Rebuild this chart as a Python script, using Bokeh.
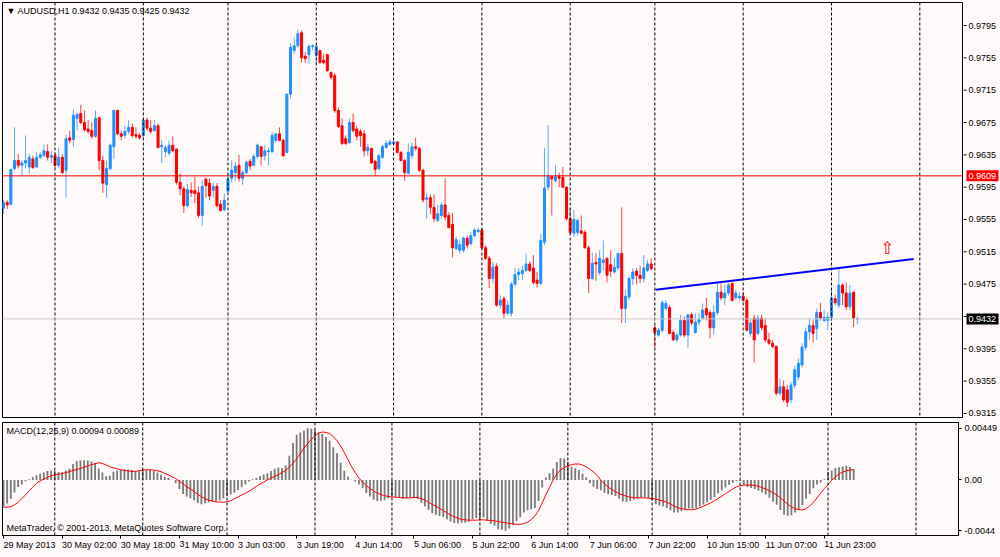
from bokeh.plotting import figure
from bokeh.models import ColumnDataSource, FixedTicker, Span, Label, Range1d, CustomJSTickFormatter
from bokeh.layouts import column, row
from bokeh.embed import file_html
from bokeh.resources import INLINE
from bokeh.core.properties import value

# ---------------- data ----------------
symbol_title = "\u25bc AUDUSD,H1  0.9432 0.9435 0.9425 0.9432"
macd_title = "MACD(12,26,9) 0.00094 0.00089"
copyright_text = "MetaTrader, \u00a9 2001-2013, MetaQuotes Software Corp."

time_label_bars = [0, 16, 32, 48, 64, 80, 96, 112, 128, 144, 160, 176, 192, 208, 224]
time_labels = ["29 May 2013", "30 May 02:00", "30 May 18:00", "31 May 10:00", "3 Jun 03:00",
               "3 Jun 19:00", "4 Jun 14:00", "5 Jun 06:00", "5 Jun 22:00", "6 Jun 14:00",
               "7 Jun 06:00", "7 Jun 22:00", "10 Jun 15:00", "11 Jun 07:00", "11 Jun 23:00"]
day_start_bars = [14, 38, 61, 85, 106, 130, 154, 177, 201, 225, 249]
price_ticks = [0.9795, 0.9755, 0.9715, 0.9675, 0.9635, 0.9595, 0.9555, 0.9515,
               0.9475, 0.9435, 0.9395, 0.9355, 0.9315]
macd_ticks = [0.00449, 0.0, -0.0044]
hline_price = 0.9609
bid_price = 0.9432
trend_x = [177.2, 247.3]
trend_y = [0.9468, 0.9506]
arrow_x = [240.2]
arrow_y = [0.9520]

# prices in pips (1/10000)
open_pips = [
 9569, 9576, 9574, 9618, 9628, 9622, 9625, 9620, 9630, 9620,
 9632, 9634, 9639, 9632, 9634, 9622, 9632, 9616, 9656, 9654,
 9680, 9686, 9675, 9667, 9665, 9658, 9681, 9628, 9598, 9618,
 9645, 9690, 9661, 9659, 9664, 9669, 9660, 9659, 9659, 9678,
 9668, 9665, 9671, 9645, 9639, 9637, 9647, 9642, 9601, 9593,
 9572, 9591, 9591, 9588, 9560, 9605, 9600, 9591, 9596, 9574,
 9567, 9590, 9606, 9613, 9622, 9606, 9613, 9627, 9622, 9633,
 9645, 9634, 9639, 9639, 9653, 9661, 9653, 9638, 9710, 9764,
 9770, 9786, 9757, 9759, 9769, 9758, 9764, 9752, 9759, 9737,
 9733, 9690, 9671, 9655, 9650, 9675, 9667, 9664, 9661, 9640,
 9643, 9627, 9618, 9632, 9644, 9648, 9649, 9651, 9638, 9628,
 9612, 9634, 9645, 9643, 9616, 9580, 9582, 9570, 9554, 9560,
 9573, 9560, 9549, 9519, 9517, 9517, 9532, 9525, 9535, 9540,
 9542, 9520, 9507, 9482, 9497, 9449, 9457, 9439, 9439, 9475,
 9487, 9488, 9492, 9500, 9495, 9480, 9476, 9527, 9595, 9608,
 9603, 9608, 9607, 9595, 9556, 9538, 9539, 9541, 9539, 9520,
 9482, 9502, 9489, 9502, 9507, 9499, 9490, 9495, 9513, 9445,
 9459, 9482, 9491, 9486, 9482, 9492, 9500, 9421, 9412, 9418,
 9445, 9446, 9415, 9406, 9412, 9430, 9412, 9437, 9415, 9428,
 9433, 9445, 9440, 9421, 9440, 9465, 9458, 9464, 9476, 9458,
 9458, 9460, 9455, 9414, 9433, 9414, 9433, 9424, 9406, 9402,
 9398, 9340, 9348, 9344, 9332, 9350, 9360, 9375, 9397, 9416,
 9424, 9420, 9440, 9430, 9430, 9434, 9457, 9449, 9474, 9464,
 9447, 9465, 9432]
high_pips = [
 9579, 9579, 9618, 9669, 9636, 9628, 9659, 9636, 9634, 9638,
 9638, 9648, 9648, 9640, 9638, 9644, 9636, 9660, 9665, 9691,
 9687, 9697, 9690, 9678, 9675, 9690, 9682, 9634, 9628, 9649,
 9691, 9691, 9665, 9671, 9678, 9674, 9669, 9662, 9681, 9681,
 9678, 9678, 9674, 9653, 9647, 9653, 9658, 9643, 9612, 9596,
 9599, 9601, 9608, 9596, 9603, 9607, 9606, 9601, 9600, 9579,
 9587, 9612, 9628, 9626, 9635, 9616, 9628, 9630, 9636, 9649,
 9645, 9647, 9644, 9663, 9661, 9669, 9655, 9711, 9773, 9780,
 9790, 9789, 9762, 9772, 9772, 9773, 9764, 9760, 9760, 9738,
 9736, 9694, 9680, 9659, 9680, 9686, 9671, 9667, 9666, 9649,
 9644, 9629, 9636, 9647, 9653, 9654, 9653, 9652, 9640, 9630,
 9649, 9650, 9656, 9645, 9618, 9588, 9586, 9586, 9573, 9576,
 9606, 9564, 9563, 9534, 9529, 9534, 9535, 9540, 9544, 9545,
 9544, 9523, 9510, 9502, 9501, 9461, 9460, 9455, 9478, 9495,
 9495, 9498, 9513, 9503, 9511, 9490, 9537, 9643, 9672, 9609,
 9622, 9613, 9620, 9596, 9569, 9567, 9556, 9560, 9542, 9523,
 9514, 9513, 9517, 9529, 9508, 9517, 9508, 9514, 9570, 9468,
 9486, 9495, 9495, 9498, 9511, 9505, 9507, 9424, 9421, 9455,
 9455, 9449, 9418, 9415, 9437, 9435, 9438, 9440, 9439, 9439,
 9451, 9458, 9443, 9449, 9476, 9476, 9474, 9477, 9477, 9468,
 9465, 9465, 9458, 9433, 9437, 9437, 9437, 9433, 9415, 9406,
 9399, 9358, 9356, 9350, 9354, 9374, 9383, 9402, 9421, 9433,
 9430, 9445, 9452, 9443, 9440, 9468, 9462, 9495, 9476, 9477,
 9474, 9466, 9435]
low_pips = [
 9562, 9568, 9572, 9616, 9618, 9609, 9618, 9612, 9618, 9619,
 9630, 9632, 9628, 9625, 9619, 9619, 9611, 9582, 9649, 9645,
 9665, 9673, 9664, 9661, 9655, 9656, 9616, 9588, 9582, 9616,
 9630, 9659, 9653, 9655, 9661, 9656, 9655, 9654, 9656, 9665,
 9661, 9664, 9643, 9625, 9632, 9634, 9638, 9598, 9585, 9563,
 9570, 9583, 9575, 9557, 9547, 9582, 9579, 9582, 9570, 9565,
 9565, 9588, 9601, 9603, 9602, 9598, 9611, 9616, 9621, 9630,
 9622, 9628, 9622, 9637, 9650, 9652, 9632, 9637, 9705, 9760,
 9768, 9749, 9749, 9748, 9764, 9748, 9748, 9747, 9738, 9728,
 9687, 9668, 9647, 9647, 9649, 9663, 9653, 9645, 9633, 9634,
 9624, 9609, 9616, 9630, 9643, 9646, 9647, 9637, 9627, 9603,
 9611, 9630, 9640, 9614, 9576, 9556, 9562, 9552, 9552, 9556,
 9554, 9544, 9508, 9517, 9513, 9514, 9519, 9523, 9533, 9538,
 9519, 9505, 9470, 9476, 9447, 9445, 9433, 9437, 9435, 9473,
 9480, 9480, 9490, 9490, 9475, 9471, 9474, 9523, 9591, 9560,
 9601, 9595, 9594, 9554, 9537, 9533, 9535, 9537, 9519, 9464,
 9480, 9479, 9486, 9492, 9477, 9484, 9488, 9492, 9427, 9427,
 9455, 9474, 9475, 9476, 9477, 9490, 9492, 9397, 9410, 9415,
 9443, 9413, 9405, 9403, 9410, 9409, 9396, 9424, 9414, 9424,
 9430, 9430, 9408, 9413, 9437, 9455, 9449, 9461, 9453, 9455,
 9455, 9453, 9416, 9410, 9378, 9412, 9418, 9403, 9400, 9396,
 9337, 9337, 9329, 9323, 9328, 9346, 9356, 9372, 9393, 9406,
 9403, 9406, 9430, 9428, 9418, 9430, 9449, 9445, 9449, 9443,
 9443, 9422, 9425]
close_pips = [
 9576, 9573, 9617, 9628, 9622, 9625, 9628, 9632, 9619, 9632,
 9635, 9640, 9632, 9634, 9622, 9632, 9613, 9655, 9653, 9684,
 9685, 9675, 9666, 9664, 9658, 9680, 9628, 9600, 9618, 9647,
 9690, 9661, 9658, 9664, 9669, 9659, 9658, 9656, 9678, 9668,
 9664, 9671, 9644, 9647, 9644, 9647, 9640, 9601, 9593, 9572,
 9592, 9588, 9587, 9560, 9596, 9597, 9584, 9596, 9572, 9566,
 9579, 9605, 9616, 9621, 9606, 9613, 9626, 9621, 9633, 9647,
 9633, 9640, 9640, 9659, 9661, 9653, 9634, 9710, 9768, 9770,
 9785, 9755, 9754, 9769, 9770, 9769, 9749, 9749, 9739, 9731,
 9690, 9670, 9649, 9649, 9675, 9665, 9658, 9659, 9640, 9644,
 9625, 9617, 9634, 9645, 9649, 9651, 9651, 9638, 9628, 9613,
 9638, 9645, 9643, 9616, 9579, 9582, 9570, 9556, 9562, 9573,
 9558, 9545, 9520, 9530, 9524, 9532, 9523, 9535, 9542, 9542,
 9520, 9507, 9482, 9496, 9449, 9455, 9439, 9449, 9475, 9487,
 9490, 9492, 9500, 9492, 9477, 9476, 9529, 9594, 9609, 9605,
 9608, 9606, 9595, 9556, 9539, 9555, 9554, 9538, 9520, 9482,
 9501, 9500, 9507, 9505, 9486, 9491, 9496, 9513, 9445, 9460,
 9482, 9490, 9486, 9482, 9495, 9500, 9494, 9415, 9418, 9452,
 9451, 9414, 9406, 9412, 9430, 9412, 9437, 9427, 9428, 9431,
 9443, 9437, 9421, 9440, 9465, 9458, 9464, 9474, 9455, 9464,
 9460, 9455, 9418, 9427, 9406, 9433, 9421, 9406, 9402, 9398,
 9340, 9348, 9332, 9329, 9350, 9369, 9377, 9397, 9416, 9424,
 9414, 9440, 9433, 9434, 9434, 9458, 9452, 9474, 9464, 9447,
 9464, 9433, 9432]

# MACD main (histogram) and signal, in units of 0.00001
macd_main = [
 -233, -205, -163, -108, -61, -39, -11, 6, 25, 42,
 55, 66, 78, 83, 80, 69, 69, 83, 97, 139,
 163, 169, 172, 169, 161, 147, 100, 66, 33, 36,
 72, 83, 91, 94, 91, 86, 75, 75, 89, 86,
 86, 78, 64, 47, 28, 17, 3, -28, -78, -122,
 -144, -158, -177, -199, -211, -202, -194, -186, -186, -177,
 -161, -141, -125, -111, -86, -64, -39, -14, 6, 17,
 33, 47, 58, 78, 97, 108, 102, 125, 211, 321,
 393, 413, 429, 449, 445, 432, 413, 399, 374, 341,
 285, 233, 150, 80, 30, 3, -14, -39, -69, -114,
 -144, -172, -183, -180, -175, -158, -144, -150, -155, -163,
 -161, -155, -152, -163, -197, -227, -260, -288, -302, -313,
 -321, -341, -360, -374, -377, -371, -371, -363, -341, -330,
 -330, -324, -357, -379, -396, -427, -432, -440, -421, -388,
 -357, -324, -283, -263, -255, -244, -183, -66, 22, 58,
 100, 155, 191, 186, 155, 114, 102, 86, 53, 22,
 -28, -58, -78, -89, -111, -122, -130, -139, -163, -186,
 -188, -183, -172, -163, -150, -150, -158, -177, -211, -222,
 -227, -244, -263, -283, -283, -271, -258, -247, -247, -241,
 -230, -213, -194, -172, -147, -116, -89, -66, -42, -25,
 -11, -6, -44, -61, -69, -78, -94, -108, -127, -155,
 -186, -216, -260, -302, -310, -307, -283, -260, -219, -163,
 -122, -72, -39, -22, 6, 72, 83, 105, 110, 118,
 125, 112, 94]
macd_signal = [
 -238, -235, -233, -216, -194, -161, -130, -94, -61, -30,
 -8, 8, 22, 36, 44, 50, 55, 64, 72, 83,
 91, 100, 111, 122, 133, 141, 150, 144, 130, 116,
 105, 97, 89, 83, 78, 75, 75, 80, 86, 89,
 89, 86, 80, 72, 58, 44, 28, 11, -11, -33,
 -58, -78, -100, -125, -144, -163, -175, -183, -191, -191,
 -194, -188, -180, -163, -147, -130, -116, -97, -78, -55,
 -36, -19, 0, 17, 30, 47, 64, 83, 111, 144,
 186, 230, 277, 316, 352, 385, 407, 416, 413, 402,
 377, 341, 296, 238, 177, 116, 64, 17, -19, -50,
 -72, -97, -114, -127, -136, -144, -147, -150, -152, -155,
 -155, -155, -152, -152, -161, -175, -194, -213, -227, -247,
 -266, -285, -305, -319, -332, -343, -346, -349, -349, -349,
 -346, -346, -349, -352, -355, -360, -366, -371, -377, -382,
 -385, -385, -379, -366, -343, -313, -266, -199, -130, -64,
 0, 53, 86, 108, 122, 133, 139, 139, 130, 114,
 94, 69, 39, -3, -33, -61, -83, -102, -119, -130,
 -141, -150, -152, -155, -155, -155, -158, -161, -166, -175,
 -183, -194, -208, -227, -241, -249, -255, -258, -258, -252,
 -241, -227, -213, -199, -180, -161, -141, -119, -100, -78,
 -61, -50, -44, -44, -44, -47, -55, -66, -78, -94,
 -111, -130, -155, -183, -211, -233, -249, -258, -260, -249,
 -227, -194, -155, -114, -75, -39, -3, 25, 53, 69,
 80, 86, 89]

# ---------------- build sources ----------------
n = len(close_pips)
bars = list(range(n))
o = [v / 10000 for v in open_pips]
h = [v / 10000 for v in high_pips]
l = [v / 10000 for v in low_pips]
c = [v / 10000 for v in close_pips]
UP = "#1E90FF"
DOWN = "#FF0000"
colors = [UP if cc >= oo else DOWN for oo, cc in zip(o, c)]
candles = ColumnDataSource(dict(
    x=bars, high=h, low=l,
    top=[max(a, b) for a, b in zip(o, c)],
    bottom=[min(a, b) for a, b in zip(o, c)],
    color=colors))
macd_src = ColumnDataSource(dict(
    x=bars,
    main=[v / 100000 for v in macd_main],
    signal=[v / 100000 for v in macd_signal]))

BG = "#FFFAFA"
FONT = "Liberation Sans"
FS = "9px"
XR = Range1d(-0.27, 260.6)
YR = Range1d(0.93100, 0.98235)


def style_axis(ax):
    ax.major_tick_out = 3
    ax.major_tick_in = 0
    ax.minor_tick_out = 0
    ax.minor_tick_in = 0
    ax.major_label_standoff = 3
    ax.axis_line_color = "black"
    ax.major_tick_line_color = "black"
    ax.major_label_text_font = FONT
    ax.major_label_text_font_size = FS
    ax.major_label_text_color = "black"


# ---------------- main price pane ----------------
p1 = figure(width=963, height=419, x_range=XR, y_range=YR,
            output_backend="svg", toolbar_location=None,
            x_axis_location=None, y_axis_location=None,
            min_border_left=2, min_border_right=1, min_border_top=2, min_border_bottom=2,
            background_fill_color=BG, border_fill_color=BG,
            outline_line_color="black", outline_line_width=1)
p1.xgrid.visible = False
p1.ygrid.visible = False

for b in day_start_bars:
    p1.add_layout(Span(location=b, dimension="height", line_color="black",
                       line_dash="3 2", line_width=1))
p1.add_layout(Span(location=hline_price, dimension="width", line_color="#FF0000", line_width=1))
p1.add_layout(Span(location=bid_price, dimension="width", line_color="#C8C8C8", line_width=1))

p1.segment(x0="x", y0="low", x1="x", y1="high", source=candles,
           line_color="color", line_width=1, line_alpha=0.75)
p1.vbar(x="x", top="top", bottom="bottom", width=0.55, source=candles,
        fill_color="color", line_color="color", line_width=1)

p1.line(trend_x, trend_y, line_color="#0000FF", line_width=2)
p1.text(x=arrow_x, y=arrow_y, text=["\u21e7"], text_color="#FF0000",
        text_font=value("DejaVu Sans"), text_font_size="17px",
        text_align="center", text_baseline="middle")

p1.add_layout(Label(x=XR.start, y=YR.end, x_offset=4, y_offset=-3, text=symbol_title,
                    text_baseline="top", text_align="left", text_font=FONT,
                    text_font_size=FS, text_color="black"))

# ---------------- price scale strip (ticks, labels, price tags) ----------------
pr = figure(width=37, height=419, x_range=Range1d(0, 37), y_range=YR,
            output_backend="svg", toolbar_location=None,
            x_axis_location=None, y_axis_location=None,
            min_border_left=0, min_border_right=0, min_border_top=2, min_border_bottom=2,
            background_fill_color=BG, border_fill_color=BG, outline_line_color=None)
pr.xgrid.visible = False
pr.ygrid.visible = False
tags = [hline_price, bid_price]
tag_colors = ["#FF0000", "#000000"]
shown_ticks = [t for t in price_ticks if all(abs(t - g) > 0.0005 for g in tags)]
pr.segment(x0=0, x1=3, y0=price_ticks, y1=price_ticks, line_color="black", line_width=1)
pr.text(x=5, y=shown_ticks, text=["%.4f" % t for t in shown_ticks],
        text_baseline="middle", text_align="left", text_font=value(FONT),
        text_font_size=FS, text_color="black")
pr.rect(x=19, y=tags, width=32, height=11, height_units="screen",
        fill_color=tag_colors, line_color=None)
pr.text(x=5, y=tags, text=["%.4f" % t for t in tags],
        text_baseline="middle", text_align="left", text_font=value(FONT),
        text_font_size=FS, text_color="white")

# ---------------- MACD pane ----------------
p2 = figure(width=1000, height=138, x_range=XR, y_range=Range1d(-0.00482, 0.00499),
            output_backend="svg", toolbar_location=None,
            x_axis_location="below", y_axis_location="right",
            min_border_left=2, min_border_right=38, min_border_top=3, min_border_bottom=17,
            background_fill_color=BG, border_fill_color=BG,
            outline_line_color="black", outline_line_width=1)
p2.xgrid.visible = False
p2.ygrid.visible = False
for b in day_start_bars:
    p2.add_layout(Span(location=b, dimension="height", line_color="black",
                       line_dash="3 2", line_width=1))
p2.vbar(x="x", top="main", bottom=0, width=0.5, source=macd_src,
        fill_color="#7A7A7A", line_color=None)
p2.line(x="x", y="signal", source=macd_src, line_color="#FF0000", line_width=1)

my = p2.yaxis[0]
my.ticker = FixedTicker(ticks=macd_ticks)
my.formatter = CustomJSTickFormatter(code="""
if (Math.abs(tick) < 1e-12) { return "0.00"; }
if (tick > 0) { return tick.toFixed(5); }
return tick.toFixed(4);
""")
style_axis(my)
mx = p2.xaxis[0]
mx.ticker = FixedTicker(ticks=time_label_bars)
mx.major_label_overrides = {b: t for b, t in zip(time_label_bars, time_labels)}
style_axis(mx)
mx.major_label_orientation = -0.0001
mx.major_label_standoff = 6
mx.major_label_text_line_height = 0.8

p2.add_layout(Label(x=XR.start, y=0.00499, x_offset=4, y_offset=-3, text=macd_title,
                    text_baseline="top", text_align="left", text_font=FONT,
                    text_font_size=FS, text_color="black"))
p2.add_layout(Label(x=XR.start, y=-0.00482, x_offset=4, y_offset=3, text=copyright_text,
                    text_baseline="bottom", text_align="left", text_font=FONT,
                    text_font_size=FS, text_color="black"))

layout = column(row(p1, pr, spacing=0), p2, spacing=0)
open("out.html", "w").write(file_html(layout, INLINE))
